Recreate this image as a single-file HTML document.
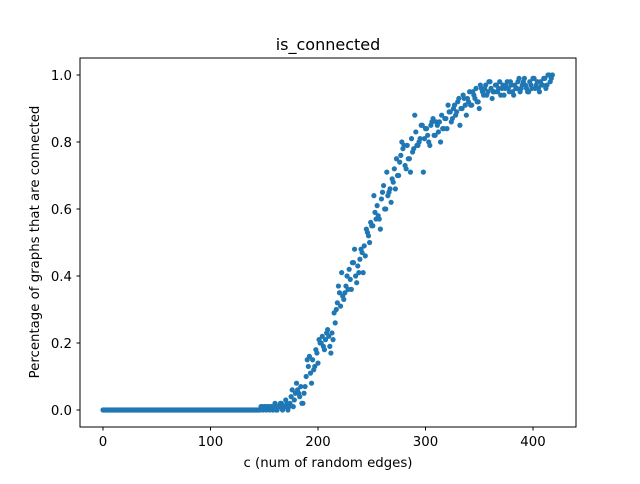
<!DOCTYPE html>
<html><head><meta charset="utf-8"><style>
body{margin:0;background:#fff;font-family:"DejaVu Sans","Liberation Sans",sans-serif}
</style></head><body>
<svg width="640" height="480" xmlns="http://www.w3.org/2000/svg" font-family="DejaVu Sans, Liberation Sans, sans-serif">
<rect width="640" height="480" fill="#fff"/>
<text x="328" y="50" font-size="16" text-anchor="middle">is_connected</text>
<g id="pts"></g>
<g id="axes"></g>
<text x="328" y="467" font-size="13.3" text-anchor="middle">c (num of random edges)</text>
<text transform="translate(39,242) rotate(-90)" font-size="13.3" text-anchor="middle">Percentage of graphs that are connected</text>
</svg>
<script>
const zerosEven = 73;
const zerosOdd = 73;
const evenTail = [0,0.01,0.01,0,0.01,0.01,0,0.02,0,0.01,0.02,0.01,0.03,0,0.02,0.06,0.03,0.08,0.05,0.07,0.02,0.07,0.15,0.16,0.08,0.12,0.18,0.14,0.2,0.22,0.18,0.23,0.22,0.17,0.21,0.26,0.32,0.35,0.41,0.33,0.37,0.36,0.39,0.44,0.48,0.38,0.41,0.48,0.41,0.46,0.53,0.5,0.55,0.64,0.57,0.58,0.54,0.65,0.6,0.71,0.65,0.62,0.68,0.66,0.7,0.74,0.8,0.79,0.72,0.75,0.71,0.77,0.88,0.79,0.8,0.85,0.71,0.84,0.82,0.79,0.86,0.82,0.86,0.83,0.8,0.84,0.87,0.84,0.89,0.86,0.9,0.88,0.92,0.85,0.9,0.93,0.88,0.92,0.91,0.95,0.93,0.92,0.9,0.96,0.94,0.97,0.95,0.98,0.93,0.95,0.97,0.96,0.94,0.97,0.96,0.98,0.95,0.97,0.94,0.96,0.98,0.95,0.97,0.99,0.96,0.95,0.97,0.99,0.96,0.98,0.95,0.97,0.99,0.96,1.0,0.98,1.0];
const oddTail = [0.01,0,0.01,0.01,0,0.01,0.01,0,0.01,0.02,0,0.01,0.02,0.01,0.04,0.01,0.05,0.06,0.04,0.02,0.05,0.1,0.13,0.11,0.15,0.13,0.17,0.21,0.2,0.19,0.21,0.24,0.19,0.23,0.29,0.3,0.37,0.31,0.34,0.35,0.4,0.42,0.36,0.44,0.4,0.43,0.45,0.47,0.49,0.54,0.52,0.56,0.55,0.59,0.61,0.57,0.63,0.67,0.6,0.64,0.66,0.69,0.72,0.75,0.7,0.76,0.78,0.73,0.79,0.75,0.81,0.78,0.83,0.79,0.81,0.85,0.81,0.84,0.8,0.85,0.87,0.82,0.85,0.86,0.88,0.84,0.87,0.91,0.89,0.87,0.91,0.89,0.93,0.9,0.94,0.91,0.93,0.95,0.91,0.94,0.96,0.92,0.97,0.95,0.96,0.94,0.98,0.96,0.95,0.97,0.95,0.98,0.96,0.94,0.97,0.96,0.98,0.95,0.97,0.96,0.99,0.96,0.98,0.97,0.95,0.98,0.96,0.99,0.97,0.96,0.98,0.97,0.99,0.97,1.0,0.99];
const xTicks = [0,100,200,300,400];
const yTicks = [0,0.2,0.4,0.6,0.8,1.0];
const yTickLabels = ["0.0","0.2","0.4","0.6","0.8","1.0"];

const evenYs = new Array(zerosEven).fill(0).concat(evenTail);
const oddYs = new Array(zerosOdd).fill(0).concat(oddTail);
const L=80,R=576,T=58,B=427;
const sx = v => 103 + v*1.075;
const sy = v => 410 - v*335;
const NS="http://www.w3.org/2000/svg";
const pts=document.getElementById('pts');
function dot(x,y){
  const c=document.createElementNS(NS,'circle');
  c.setAttribute('cx',sx(x));c.setAttribute('cy',sy(y));c.setAttribute('r',2.6);c.setAttribute('fill','#1f77b4');
  
  
  pts.appendChild(c);
}
evenYs.forEach((y,i)=>dot(i*2,y));
oddYs.forEach((y,i)=>dot(i*2+1,y));
const ax=document.getElementById('axes');
function add(tag,attrs,txt){const e=document.createElementNS(NS,tag);for(const k in attrs)e.setAttribute(k,attrs[k]);if(txt!==undefined)e.textContent=txt;ax.appendChild(e);return e;}
const frame=add('rect',{x:L,y:T,width:R-L,height:B-T,fill:'none',stroke:'#000','stroke-width':1});


xTicks.forEach(t=>{
  const x=sx(t);
  const l=add('line',{x1:x,x2:x,y1:B,y2:B+3.5,stroke:'#000'});
  
  
  const tx=add('text',{x:x,y:B+19,'font-size':13.3,'text-anchor':'middle'},String(t));
  
  
});
yTicks.forEach((t,i)=>{
  const y=sy(t);
  const l=add('line',{x1:L-3.5,x2:L,y1:y,y2:y,stroke:'#000'});
  
  
  const tx=add('text',{x:L-8,y:y+5,'font-size':13.3,'text-anchor':'end'},yTickLabels[i]);
  
  
});
</script>
</body></html>
